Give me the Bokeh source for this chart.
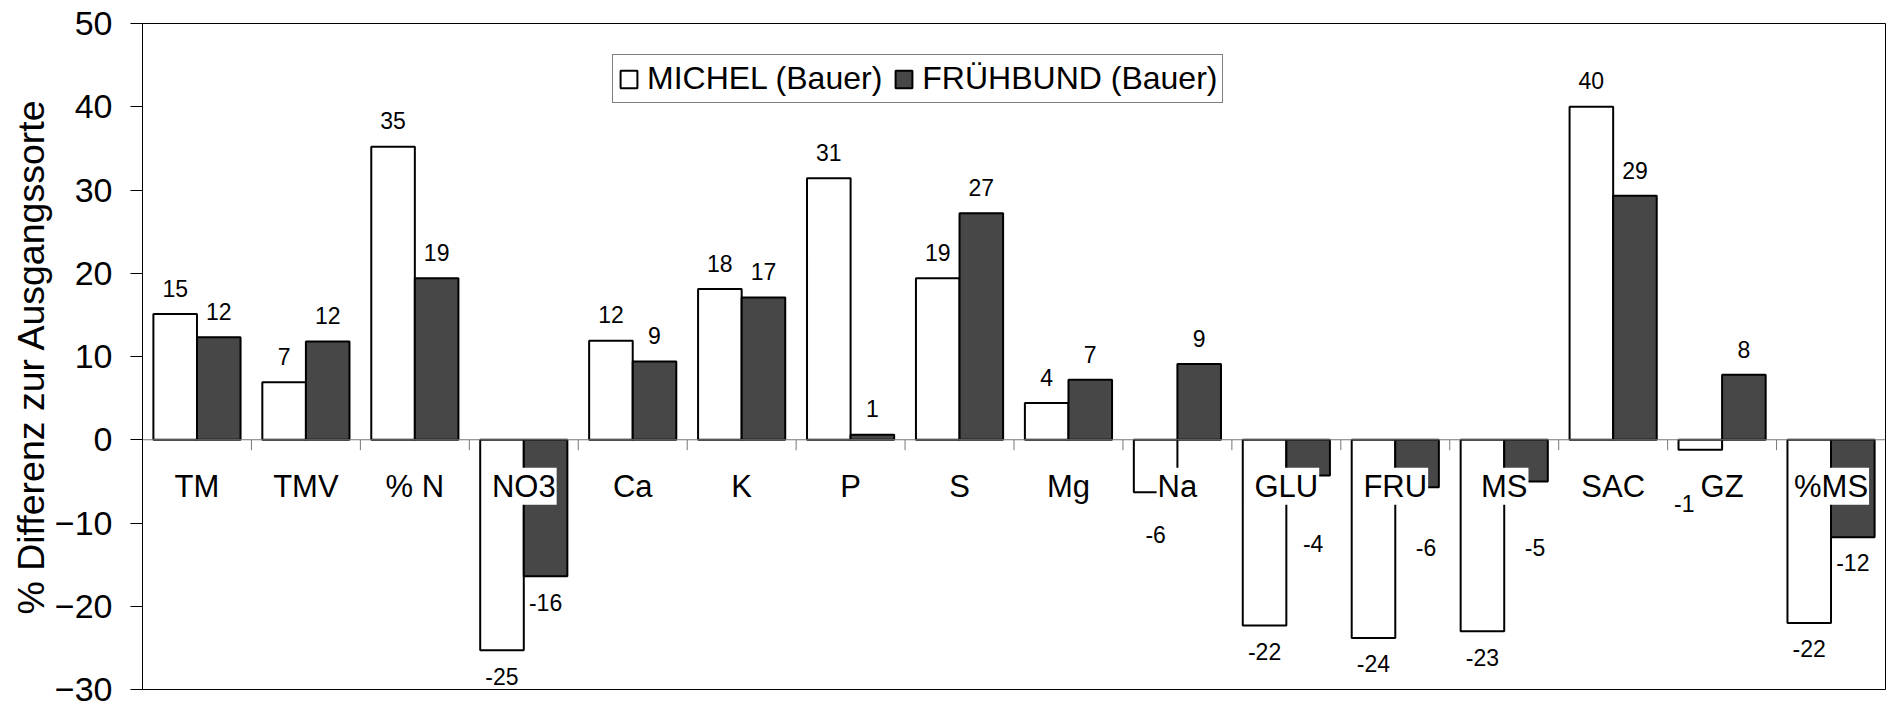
import numpy as np
from bokeh.plotting import figure
from bokeh.models import Range1d, FixedTicker, Span, ColumnDataSource, Legend, LegendItem
from bokeh.core.properties import value
from bokeh.embed import file_html
from bokeh.resources import INLINE

# ---------------- data ----------------
categories = ["TM", "TMV", "% N", "NO3", "Ca", "K", "P", "S", "Mg", "Na",
              "GLU", "FRU", "MS", "SAC", "GZ", "%MS"]
michel = [15.1, 6.9, 35.2, -25.3, 11.9, 18.1, 31.4, 19.4, 4.4, -6.3,
          -22.3, -23.8, -23.0, 40.0, -1.2, -22.0]
fruehbund = [12.3, 11.8, 19.4, -16.4, 9.4, 17.1, 0.6, 27.2, 7.2, 9.1,
             -4.3, -5.7, -5.0, 29.3, 7.8, -11.7]
series_names = ["MICHEL (Bauer)", "FRÜHBUND (Bauer)"]
y_ticks = [-30, -20, -10, 0, 10, 20, 30, 40, 50]

# ---------------- style / layout ----------------
FONT = "Liberation Sans"
DARK = "#474747"
LABEL_OFF = 3.1          # data-label distance from bar end (data units)
CAT_LABEL_Y = -5.6       # category labels sit inside the plot, below zero
# manual label placement as in the original chart: (series, category) -> (y, dx_px)
LABEL_PLACE = {
    (0, "Na"): (-11.4, 0),
    (0, "GZ"): (-7.6, -16),
    (1, "GLU"): (-12.5, 5),
    (1, "FRU"): (-13.0, 9),
    (1, "MS"): (-12.9, 9),
}

n = len(categories)
xc = np.arange(n) + 0.5

p = figure(frame_width=1743, frame_height=666, output_backend="svg", toolbar_location=None,
           x_range=Range1d(0, n), y_range=Range1d(y_ticks[0], y_ticks[-1]),
           min_border_left=142, min_border_top=23, min_border_right=3, min_border_bottom=15)
p.background_fill_color = "white"
p.border_fill_color = "white"
p.outline_line_color = "black"
p.outline_line_width = 1
p.xgrid.visible = False
p.ygrid.visible = False
p.xaxis.visible = False

ya = p.yaxis[0]
ya.ticker = FixedTicker(ticks=y_ticks)
ya.major_tick_out = 12
ya.major_tick_in = 0
ya.minor_tick_out = 0
ya.minor_tick_in = 0
ya.axis_line_color = "black"
ya.major_tick_line_color = "black"
ya.major_label_text_font = FONT
ya.major_label_text_font_size = "34px"
ya.major_label_text_color = "black"
ya.major_label_standoff = 18
ya.axis_label = "% Differenz zur Ausgangssorte"
ya.axis_label_text_font = FONT
ya.axis_label_text_font_size = "37.5px"
ya.axis_label_text_font_style = "normal"
ya.axis_label_text_color = "black"
ya.axis_label_standoff = 0

# zero line and category boundary ticks
p.add_layout(Span(location=0, dimension="width", line_color="#777777", line_width=1))
bounds = np.arange(1, n)
p.segment(x0=bounds, y0=np.zeros(len(bounds)), x1=bounds, y1=np.full(len(bounds), -1.25),
          line_color="#777777", line_width=1)

# bars
r1 = p.vbar(x=xc - 0.2, top=michel, bottom=0, width=0.4,
            fill_color="white", line_color="black", line_width=2)
r2 = p.vbar(x=xc + 0.2, top=fruehbund, bottom=0, width=0.4,
            fill_color=DARK, line_color="black", line_width=2)

# category labels with white box (inside plot)
p.text(x=xc, y=np.full(n, CAT_LABEL_Y), text=categories,
       text_font=value(FONT), text_font_size="31px", text_color="black",
       text_align="center", text_baseline="middle",
       background_fill_color="white", padding=1)

# data labels
for si, vals, dx0 in ((0, michel, -0.2), (1, fruehbund, 0.2)):
    xs, ys, txt, offs = [], [], [], []
    for i, v in enumerate(vals):
        yv = v + LABEL_OFF if v >= 0 else v - LABEL_OFF
        dx = 0
        key = (si, categories[i])
        if key in LABEL_PLACE:
            yv, dx = LABEL_PLACE[key]
        xs.append(xc[i] + dx0)
        ys.append(yv)
        txt.append(str(int(round(v))))
        offs.append(dx)
    src = ColumnDataSource(dict(x=xs, y=ys, t=txt, dx=offs))
    p.text(x="x", y="y", text="t", x_offset="dx", source=src,
           text_font=value(FONT), text_font_size="23px", text_color="black",
           text_align="center", text_baseline="middle")

legend = Legend(items=[LegendItem(label=series_names[0], renderers=[r1]),
                       LegendItem(label=series_names[1], renderers=[r2])],
                location=(470, 586), orientation="horizontal")
legend.label_text_font = FONT
legend.label_text_font_size = "32px"
legend.label_text_color = "black"
legend.glyph_width = 21
legend.glyph_height = 22
legend.label_standoff = 8
legend.spacing = 11
legend.padding = 5
legend.margin = 0
legend.border_line_color = "black"
legend.border_line_width = 1
legend.background_fill_color = "white"
legend.background_fill_alpha = 1
p.add_layout(legend, "center")

open("out.html", "w").write(file_html(p, INLINE))
